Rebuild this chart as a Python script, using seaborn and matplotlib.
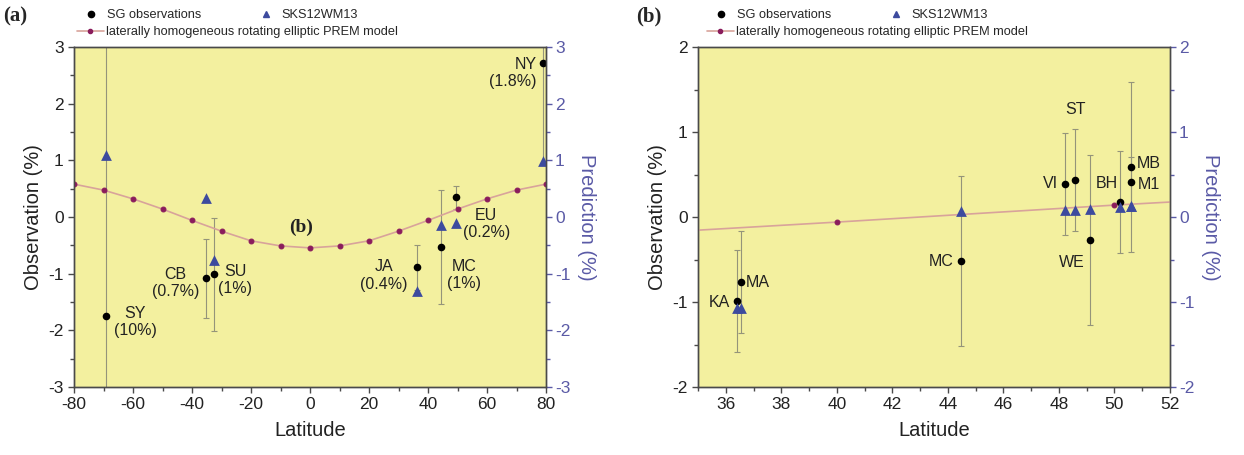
import matplotlib
matplotlib.use("Agg")
import matplotlib.pyplot as plt
import seaborn as sns
from matplotlib.lines import Line2D
from matplotlib.ticker import MultipleLocator

# ---------------- data ----------------
# panel (a)
a_sites = ["SY", "CB", "SU", "JA", "MC", "EU", "NY"]
a_pct = ["(10%)", "(0.7%)", "(1%)", "(0.4%)", "(1%)", "(0.2%)", "(1.8%)"]
a_lat = [-69.1, -35.4, -32.4, 36.3, 44.5, 49.6, 78.9]
a_obs = [-1.75, -1.08, -1.01, -0.89, -0.53, 0.35, 2.72]
a_err = [5.0, 0.7, 1.0, 0.4, 1.0, 0.2, 1.8]
a_pred = [1.10, 0.33, -0.76, -1.30, -0.14, -0.11, 0.99]

# panel (b)
b_sites = ["KA", "MA", "MC", "VI", "ST", "WE", "BH", "MB", "M1"]
b_lat = [36.39, 36.54, 44.48, 48.22, 48.58, 49.11, 50.19, 50.61, 50.61]
b_obs = [-0.985, -0.77, -0.52, 0.39, 0.43, -0.27, 0.18, 0.59, 0.41]
b_err = [0.6, 0.6, 1.0, 0.6, 0.6, 1.0, 0.6, 1.0, 0.3]
b_pred = [-1.07, -1.07, 0.07, 0.08, 0.08, 0.09, 0.12, 0.13, 0.13]

# laterally homogeneous rotating elliptic PREM model
prem_lat = [-80, -70, -60, -50, -40, -30, -20, -10, 0, 10, 20, 30, 40, 50, 60, 70, 80]
prem_val = [0.58, 0.475, 0.32, 0.14, -0.06, -0.25, -0.42, -0.51, -0.545,
            -0.51, -0.42, -0.25, -0.06, 0.14, 0.32, 0.475, 0.58]

# ---------------- style ----------------
sns.set_style("ticks")
plt.rcParams["font.family"] = ["Liberation Sans", "DejaVu Sans"]
plt.rcParams["axes.unicode_minus"] = False

BG = "#f3f09f"
TRI = "#3d4b9e"
RIGHT = "#5a5aa6"
ERR = "#94947a"
PLINE = "#d8a39b"
PMARK = "#8a1c5c"
SPINE = "#4a4a4a"

W, H = 1244, 455
fig = plt.figure(figsize=(W / 100, H / 100), dpi=100)

ax_a = fig.add_axes([74 / W, 1 - 387 / H, 472 / W, 340 / H])
ax_b = fig.add_axes([698 / W, 1 - 387 / H, 472 / W, 340 / H])

# label placements: (dx, dy) in pixels, horizontal alignment
a_place = [(29, -6, "center"), (-30, -5, "center"), (21, -6, "center"),
           (-33, -8, "center"), (23, -28, "center"), (30, -27, "center"),
           (-6, -10, "right")]
b_place = [(-7, -2, "right"), (5, 0, "left"), (-8, 0, "right"),
           (-7, 0, "right"), (0, 71, "center"), (-5, -23, "right"),
           (-2, 18, "right"), (5, 3, "left"), (6, -2, "left")]


def draw(ax, lat, obs, err, pred, xlim, ylim, xmaj, xmin):
    ax.set_facecolor(BG)
    ax.errorbar(lat, obs, yerr=err, fmt="none", ecolor=ERR, elinewidth=0.8,
                capsize=2.5, capthick=0.8, zorder=2)
    sns.lineplot(x=prem_lat, y=prem_val, ax=ax, color=PLINE, lw=1.2,
                 marker="o", markersize=3.5, markerfacecolor=PMARK,
                 markeredgecolor=PMARK, sort=False, estimator=None, zorder=3)
    sns.scatterplot(x=lat, y=obs, ax=ax, color="black", s=30, marker="o",
                    linewidth=0, zorder=4)
    sns.scatterplot(x=lat, y=pred, ax=ax, color=TRI, s=60, marker="^",
                    linewidth=0, zorder=5)
    ax.set_xlim(*xlim)
    ax.set_ylim(*ylim)
    ax.xaxis.set_major_locator(MultipleLocator(xmaj))
    ax.xaxis.set_minor_locator(MultipleLocator(xmin))
    ax.yaxis.set_major_locator(MultipleLocator(1))
    ax.yaxis.set_minor_locator(MultipleLocator(0.5))
    ax.tick_params(which="major", direction="out", length=4.5, width=1,
                   color=SPINE, labelsize=12.5, labelcolor="#222222", pad=3)
    ax.tick_params(which="minor", direction="out", length=2.8, width=1,
                   color=SPINE)
    ax.tick_params(top=False, right=False, which="both")
    for s in ax.spines.values():
        s.set_color(SPINE)
        s.set_linewidth(1)
        s.set_visible(True)
    ax.set_xlabel("Latitude", fontsize=14.5, color="#222222", labelpad=6)
    ax.set_ylabel("Observation (%)", fontsize=14.5, color="#222222", labelpad=4)

    ax2 = ax.twinx()
    ax2.set_ylim(*ylim)
    ax2.yaxis.set_major_locator(MultipleLocator(1))
    ax2.yaxis.set_minor_locator(MultipleLocator(0.5))
    ax2.tick_params(which="major", direction="out", length=4.5, width=1,
                    color=RIGHT, labelsize=12.5, labelcolor=RIGHT, pad=2)
    ax2.tick_params(which="minor", direction="out", length=2.8, width=1,
                    color=RIGHT)
    for s in ax2.spines.values():
        s.set_color(SPINE)
        s.set_linewidth(1)
    ax2.set_ylabel("Prediction (%)", fontsize=14.5, color=RIGHT, rotation=270,
                   labelpad=18)
    return ax2


draw(ax_a, a_lat, a_obs, a_err, a_pred, (-80, 80), (-3, 3), 20, 10)
draw(ax_b, b_lat, b_obs, b_err, b_pred, (35, 52), (-2, 2), 2, 1)

for site, pct, x, y, (dx, dy, ha) in zip(a_sites, a_pct, a_lat, a_obs, a_place):
    ax_a.annotate(f"{site}\n{pct}", (x, y), xytext=(dx, dy),
                  textcoords="offset pixels", ha=ha, va="center",
                  multialignment=ha,
                  fontsize=11.5, color="#222222", linespacing=1.2, zorder=6)

for site, x, y, (dx, dy, ha) in zip(b_sites, b_lat, b_obs, b_place):
    ax_b.annotate(site, (x, y), xytext=(dx, dy), textcoords="offset pixels",
                  ha=ha, va="center", fontsize=11.5, color="#222222", zorder=6)

ax_a.text(-3, -0.19, "(b)", fontsize=14, fontweight="bold",
          family="Liberation Serif", ha="center", va="center", color="#222222",
          zorder=6)

# panel labels
fig.text(3 / W, 1 - 16 / H, "(a)", fontsize=15, fontweight="bold",
         family="Liberation Serif", ha="left", va="center")
fig.text(636 / W, 1 - 16 / H, "(b)", fontsize=15, fontweight="bold",
         family="Liberation Serif", ha="left", va="center")

# legends
h_sg = Line2D([], [], ls="none", marker="o", color="black", markersize=4.5)
h_sks = Line2D([], [], ls="none", marker="^", color=TRI, markersize=5)
h_prem = Line2D([], [], color=PLINE, lw=1.2, marker="o", markersize=3,
                markerfacecolor=PMARK, markeredgecolor=PMARK)


def put_legend(handle, label, xpx, ypx):
    fig.legend(handles=[handle], labels=[label], loc="center left",
               bbox_to_anchor=(xpx / W, 1 - ypx / H), frameon=False,
               fontsize=9.2, handlelength=2.1, handletextpad=0.15,
               borderpad=0, borderaxespad=0)


for shift in (0, 630):
    put_legend(h_sg, "SG observations", 78 + shift, 15)
    put_legend(h_sks, "SKS12WM13", 253 + shift, 15)
    put_legend(h_prem, "laterally homogeneous rotating elliptic PREM model",
               77 + shift, 32)

fig.savefig("out.png", dpi=100)
